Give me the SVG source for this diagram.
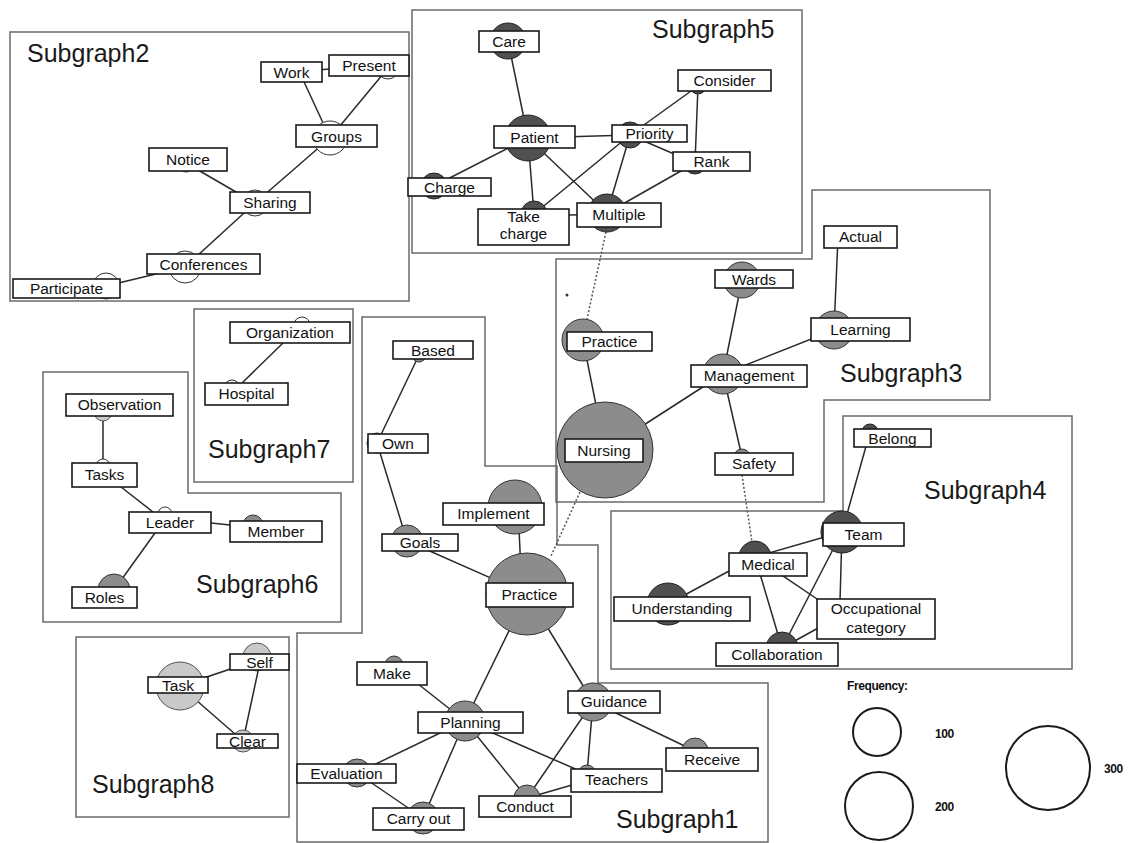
<svg xmlns="http://www.w3.org/2000/svg" width="1133" height="843" viewBox="0 0 1133 843">
<style>
.frame{fill:none;stroke:#6a6a6a;stroke-width:1.5}
.title{font-family:"Liberation Sans",Arial,sans-serif;font-size:25px;fill:#1a1a1a}
.box{fill:#fff;stroke:#1a1a1a;stroke-width:1.6}
.lbl{font-family:"Liberation Sans",Arial,sans-serif;font-size:15.5px;fill:#111;text-anchor:middle}
.c0{fill:#fff;stroke:#333;stroke-width:1}
.cl{fill:#c9c9c9;stroke:#555;stroke-width:1}
.c2{fill:#8c8c8c;stroke:#333;stroke-width:1}
.c3{fill:#505050;stroke:#222;stroke-width:1}
.e{stroke:#2a2a2a;stroke-width:1.5;fill:none}
.d{stroke:#555;stroke-width:1.5;stroke-dasharray:2 2;fill:none}
.leg{fill:none;stroke:#1a1a1a;stroke-width:2}
.lt{font-family:"Liberation Sans",Arial,sans-serif;font-size:12px;font-weight:bold;fill:#111;letter-spacing:-0.4px}
</style>
<rect width="1133" height="843" fill="#fff"/>
<g id="frames">
<rect class="frame" x="10" y="32" width="399" height="269"/>
<rect class="frame" x="412" y="10" width="390" height="243"/>
<polygon class="frame" points="812,190 990,190 990,400 824,400 824,502 556,502 556,259 812,259"/>
<polygon class="frame" points="843,416 1072,416 1072,669 611,669 611,511 843,511"/>
<rect class="frame" x="194" y="309" width="159" height="173"/>
<polygon class="frame" points="43,372 188,372 188,493 341,493 341,622 43,622"/>
<polygon class="frame" points="362,317 485,317 485,466 557,466 557,545 598,545 598,683 768,683 768,842 297,842 297,633 362,633"/>
<rect class="frame" x="76" y="637" width="213" height="180"/>
<text class="title" x="27" y="62">Subgraph2</text>
<text class="title" x="652" y="38">Subgraph5</text>
<text class="title" x="840" y="382">Subgraph3</text>
<text class="title" x="924" y="499">Subgraph4</text>
<text class="title" x="208" y="458">Subgraph7</text>
<text class="title" x="196" y="593">Subgraph6</text>
<text class="title" x="616" y="828">Subgraph1</text>
<text class="title" x="92" y="793">Subgraph8</text>
<circle cx="567" cy="295" r="1.5" fill="#333"/>
</g>
<g id="connectors">
<line class="e" x1="299" y1="71" x2="330" y2="138"/>
<line class="e" x1="388" y1="68" x2="330" y2="138"/>
<line class="e" x1="291" y1="72" x2="369" y2="66"/>
<line class="e" x1="330" y1="138" x2="255" y2="203"/>
<line class="e" x1="186" y1="163" x2="255" y2="203"/>
<line class="e" x1="255" y1="203" x2="185" y2="267"/>
<line class="e" x1="185" y1="267" x2="106" y2="286"/>
<line class="e" x1="508" y1="41" x2="528" y2="138"/>
<line class="e" x1="528" y1="138" x2="630" y2="135"/>
<line class="e" x1="528" y1="138" x2="434" y2="186"/>
<line class="e" x1="528" y1="138" x2="534" y2="214"/>
<line class="e" x1="528" y1="138" x2="607" y2="213"/>
<line class="e" x1="630" y1="135" x2="698" y2="86"/>
<line class="e" x1="630" y1="135" x2="695" y2="163"/>
<line class="e" x1="630" y1="135" x2="534" y2="214"/>
<line class="e" x1="630" y1="135" x2="607" y2="213"/>
<line class="e" x1="698" y1="86" x2="695" y2="163"/>
<line class="e" x1="695" y1="163" x2="607" y2="213"/>
<line class="e" x1="534" y1="216" x2="607" y2="214"/>
<line class="e" x1="583" y1="340" x2="605" y2="450"/>
<line class="e" x1="605" y1="450" x2="723" y2="374"/>
<line class="e" x1="723" y1="374" x2="742" y2="280"/>
<line class="e" x1="723" y1="374" x2="834" y2="330"/>
<line class="e" x1="838" y1="237" x2="834" y2="330"/>
<line class="e" x1="723" y1="374" x2="742" y2="457"/>
<line class="e" x1="870" y1="432" x2="842" y2="532"/>
<line class="e" x1="842" y1="532" x2="755" y2="557"/>
<line class="e" x1="755" y1="557" x2="668" y2="604"/>
<line class="e" x1="755" y1="557" x2="782" y2="648"/>
<line class="e" x1="755" y1="557" x2="820" y2="601"/>
<line class="e" x1="842" y1="532" x2="782" y2="648"/>
<line class="e" x1="842" y1="532" x2="840" y2="601"/>
<line class="e" x1="820" y1="627" x2="782" y2="648"/>
<line class="e" x1="283" y1="343" x2="242" y2="383"/>
<line class="e" x1="103" y1="412" x2="103" y2="466"/>
<line class="e" x1="121" y1="487" x2="153" y2="512"/>
<line class="e" x1="211" y1="523" x2="230" y2="525"/>
<line class="e" x1="155" y1="533" x2="114" y2="590"/>
<line class="e" x1="419" y1="355" x2="377" y2="443"/>
<line class="e" x1="377" y1="443" x2="407" y2="541"/>
<line class="e" x1="407" y1="541" x2="527" y2="594"/>
<line class="e" x1="518" y1="507" x2="522" y2="594"/>
<line class="e" x1="527" y1="594" x2="465" y2="721"/>
<line class="e" x1="527" y1="594" x2="593" y2="702"/>
<line class="e" x1="394" y1="665" x2="465" y2="721"/>
<line class="e" x1="465" y1="721" x2="357" y2="773"/>
<line class="e" x1="465" y1="721" x2="423" y2="818"/>
<line class="e" x1="465" y1="721" x2="527" y2="798"/>
<line class="e" x1="465" y1="721" x2="587" y2="774"/>
<line class="e" x1="357" y1="773" x2="423" y2="818"/>
<line class="e" x1="593" y1="702" x2="527" y2="798"/>
<line class="e" x1="593" y1="702" x2="587" y2="774"/>
<line class="e" x1="593" y1="702" x2="695" y2="751"/>
<line class="e" x1="572" y1="785" x2="527" y2="798"/>
<line class="e" x1="180" y1="686" x2="257" y2="660"/>
<line class="e" x1="180" y1="686" x2="243" y2="741"/>
<line class="e" x1="260" y1="662" x2="243" y2="741"/>
<line class="d" x1="606" y1="232" x2="587" y2="319"/>
<line class="d" x1="580" y1="492" x2="551" y2="556"/>
<line class="d" x1="742" y1="475" x2="752" y2="542"/>
</g>
<g id="n-work"><circle class="c0" cx="299" cy="71" r="9"/><rect class="box" x="261" y="62" width="61" height="20"/><text class="lbl" x="291.5" y="77.5">Work</text></g>
<g id="n-present"><circle class="c0" cx="388" cy="68" r="11"/><rect class="box" x="329" y="55" width="80" height="21"/><text class="lbl" x="369" y="71">Present</text></g>
<g id="n-groups"><circle class="c0" cx="330" cy="138" r="17"/><rect class="box" x="296" y="125" width="81" height="22"/><text class="lbl" x="336.5" y="141.5">Groups</text></g>
<g id="n-notice"><circle class="c0" cx="186" cy="164" r="8"/><rect class="box" x="149" y="148" width="78" height="23"/><text class="lbl" x="188" y="165">Notice</text></g>
<g id="n-sharing"><circle class="c0" cx="255" cy="203" r="13"/><rect class="box" x="230" y="192" width="80" height="21"/><text class="lbl" x="270" y="208">Sharing</text></g>
<g id="n-conferences"><circle class="c0" cx="185" cy="267" r="16"/><rect class="box" x="147" y="254" width="113" height="20"/><text class="lbl" x="203.5" y="269.5">Conferences</text></g>
<g id="n-participate"><circle class="c0" cx="106" cy="286" r="13"/><rect class="box" x="13" y="279" width="107" height="19"/><text class="lbl" x="66.5" y="294">Participate</text></g>

<g id="n-care"><circle class="c3" cx="508" cy="41" r="18"/><rect class="box" x="479" y="31" width="60" height="21"/><text class="lbl" x="509" y="47">Care</text></g>
<g id="n-patient"><circle class="c3" cx="528" cy="138" r="23"/><rect class="box" x="494" y="126" width="81" height="22"/><text class="lbl" x="534.5" y="142.5">Patient</text></g>
<g id="n-priority"><circle class="c3" cx="630" cy="135" r="13"/><rect class="box" x="612" y="125" width="75" height="17"/><text class="lbl" x="649.5" y="139">Priority</text></g>
<g id="n-consider"><circle class="c3" cx="698" cy="86" r="8"/><rect class="box" x="678" y="70" width="93" height="21"/><text class="lbl" x="724.5" y="86">Consider</text></g>
<g id="n-rank"><circle class="c3" cx="695" cy="163" r="11"/><rect class="box" x="673" y="152" width="77" height="19"/><text class="lbl" x="711.5" y="167">Rank</text></g>
<g id="n-charge"><circle class="c3" cx="434" cy="186" r="13"/><rect class="box" x="408" y="178" width="83" height="18"/><text class="lbl" x="449.5" y="192.5">Charge</text></g>
<g id="n-takecharge"><circle class="c3" cx="534" cy="214" r="13"/><rect class="box" x="478" y="209" width="91" height="36"/><text class="lbl" x="523.5" y="222">Take</text><text class="lbl" x="523.5" y="239">charge</text></g>
<g id="n-multiple"><circle class="c3" cx="607" cy="213" r="19"/><rect class="box" x="577" y="203" width="84" height="24"/><text class="lbl" x="619" y="220">Multiple</text></g>

<g id="n-practice3"><circle class="c2" cx="583" cy="340" r="21"/><rect class="box" x="567" y="332" width="85" height="19"/><text class="lbl" x="609.5" y="347">Practice</text></g>
<g id="n-nursing"><circle class="c2" cx="605" cy="450" r="48"/><rect class="box" x="565" y="439" width="78" height="23"/><text class="lbl" x="604" y="456">Nursing</text></g>
<g id="n-management"><circle class="c2" cx="723" cy="374" r="20"/><rect class="box" x="691" y="365" width="116" height="22"/><text class="lbl" x="749" y="381">Management</text></g>
<g id="n-wards"><circle class="c2" cx="742" cy="280" r="18"/><rect class="box" x="715" y="270" width="78" height="18"/><text class="lbl" x="754" y="284.5">Wards</text></g>
<g id="n-actual"><rect class="box" x="824" y="226" width="73" height="22"/><text class="lbl" x="860.5" y="242">Actual</text></g>
<g id="n-learning"><circle class="c2" cx="834" cy="330" r="19"/><rect class="box" x="811" y="318" width="99" height="23"/><text class="lbl" x="860.5" y="335">Learning</text></g>
<g id="n-safety"><circle class="c2" cx="742" cy="457" r="8"/><rect class="box" x="715" y="453" width="78" height="22"/><text class="lbl" x="754" y="469">Safety</text></g>

<g id="n-belong"><circle class="c3" cx="870" cy="432" r="8"/><rect class="box" x="854" y="429" width="77" height="18"/><text class="lbl" x="892.5" y="443.5">Belong</text></g>
<g id="n-team"><circle class="c3" cx="842" cy="532" r="21"/><rect class="box" x="823" y="523" width="81" height="23"/><text class="lbl" x="863.5" y="539.5">Team</text></g>
<g id="n-medical"><circle class="c3" cx="755" cy="557" r="16"/><rect class="box" x="729" y="553" width="78" height="23"/><text class="lbl" x="768" y="569.5">Medical</text></g>
<g id="n-understanding"><circle class="c3" cx="668" cy="604" r="21"/><rect class="box" x="614" y="597" width="136" height="24"/><text class="lbl" x="682" y="614">Understanding</text></g>
<g id="n-occupational"><rect class="box" x="817" y="599" width="118" height="40"/><text class="lbl" x="876" y="614">Occupational</text><text class="lbl" x="876" y="633">category</text></g>
<g id="n-collaboration"><circle class="c3" cx="782" cy="648" r="16"/><rect class="box" x="716" y="643" width="122" height="23"/><text class="lbl" x="777" y="660">Collaboration</text></g>

<g id="n-organization"><circle class="c0" cx="302" cy="325" r="8"/><rect class="box" x="230" y="322" width="120" height="21"/><text class="lbl" x="290" y="338">Organization</text></g>
<g id="n-hospital"><circle class="c0" cx="232" cy="388" r="8"/><rect class="box" x="205" y="383" width="83" height="22"/><text class="lbl" x="246.5" y="399">Hospital</text></g>

<g id="n-observation"><circle class="cl" cx="103" cy="412" r="9"/><rect class="box" x="66" y="394" width="107" height="22"/><text class="lbl" x="119.5" y="410">Observation</text></g>
<g id="n-tasks"><circle class="c0" cx="103" cy="466" r="7"/><rect class="box" x="72" y="463" width="65" height="24"/><text class="lbl" x="104.5" y="480">Tasks</text></g>
<g id="n-leader"><circle class="c0" cx="165" cy="514" r="7"/><rect class="box" x="129" y="512" width="82" height="21"/><text class="lbl" x="170" y="528">Leader</text></g>
<g id="n-member"><circle class="c2" cx="253" cy="525" r="10"/><rect class="box" x="230" y="521" width="92" height="21"/><text class="lbl" x="276" y="537">Member</text></g>
<g id="n-roles"><circle class="c2" cx="114" cy="590" r="16"/><rect class="box" x="72" y="587" width="65" height="21"/><text class="lbl" x="104.5" y="603">Roles</text></g>

<g id="n-based"><circle class="c2" cx="419" cy="355" r="7"/><rect class="box" x="393" y="341" width="80" height="18"/><text class="lbl" x="433" y="355.5">Based</text></g>
<g id="n-own"><circle class="c2" cx="377" cy="443" r="10"/><rect class="box" x="368" y="434" width="60" height="19"/><text class="lbl" x="398" y="449">Own</text></g>
<g id="n-goals"><circle class="c2" cx="407" cy="541" r="16"/><rect class="box" x="382" y="534" width="76" height="17"/><text class="lbl" x="420" y="548">Goals</text></g>
<g id="n-implement"><circle class="c2" cx="515" cy="507" r="27"/><rect class="box" x="443" y="503" width="101" height="22"/><text class="lbl" x="493.5" y="519">Implement</text></g>
<g id="n-practice1"><circle class="c2" cx="527" cy="594" r="41"/><rect class="box" x="486" y="583" width="87" height="24"/><text class="lbl" x="529.5" y="600">Practice</text></g>
<g id="n-make"><circle class="c2" cx="394" cy="665" r="9"/><rect class="box" x="357" y="662" width="70" height="23"/><text class="lbl" x="392" y="679">Make</text></g>
<g id="n-planning"><circle class="c2" cx="465" cy="721" r="20"/><rect class="box" x="418" y="712" width="105" height="21"/><text class="lbl" x="470.5" y="728">Planning</text></g>
<g id="n-guidance"><circle class="c2" cx="593" cy="702" r="19"/><rect class="box" x="568" y="691" width="92" height="22"/><text class="lbl" x="614" y="707">Guidance</text></g>
<g id="n-receive"><circle class="c2" cx="695" cy="751" r="13"/><rect class="box" x="666" y="748" width="92" height="23"/><text class="lbl" x="712" y="765">Receive</text></g>
<g id="n-teachers"><circle class="c2" cx="587" cy="774" r="9"/><rect class="box" x="571" y="769" width="91" height="23"/><text class="lbl" x="616.5" y="785">Teachers</text></g>
<g id="n-conduct"><circle class="c2" cx="527" cy="798" r="13"/><rect class="box" x="479" y="796" width="92" height="21"/><text class="lbl" x="525" y="812">Conduct</text></g>
<g id="n-evaluation"><circle class="c2" cx="357" cy="773" r="14"/><rect class="box" x="297" y="764" width="99" height="19"/><text class="lbl" x="346.5" y="779">Evaluation</text></g>
<g id="n-carryout"><circle class="c2" cx="423" cy="818" r="16"/><rect class="box" x="373" y="808" width="91" height="22"/><text class="lbl" x="418.5" y="824">Carry out</text></g>

<g id="n-task"><circle class="cl" cx="180" cy="686" r="24"/><rect class="box" x="148" y="677" width="60" height="16"/><text class="lbl" x="178" y="690.5">Task</text></g>
<g id="n-self"><circle class="cl" cx="257" cy="657" r="14"/><rect class="box" x="230" y="654" width="59" height="16"/><text class="lbl" x="259.5" y="667.5">Self</text></g>
<g id="n-clear"><circle class="cl" cx="243" cy="741" r="11"/><rect class="box" x="217" y="734" width="61" height="14"/><text class="lbl" x="247.5" y="746.5">Clear</text></g>

<g id="legend">
<text class="lt" x="847" y="690">Frequency:</text>
<circle class="leg" cx="877" cy="732" r="24"/>
<text class="lt" x="935" y="738">100</text>
<circle class="leg" cx="879" cy="806" r="34"/>
<text class="lt" x="935" y="811">200</text>
<circle class="leg" cx="1048" cy="768" r="42"/>
<text class="lt" x="1104" y="773">300</text>
</g>
</svg>
